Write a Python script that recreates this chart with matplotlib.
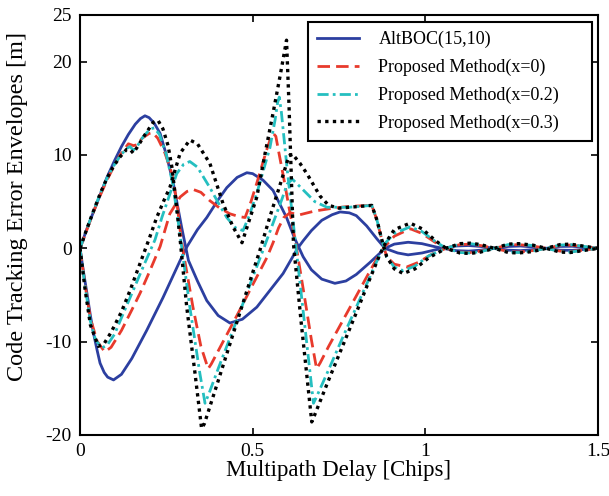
import matplotlib
matplotlib.use("Agg")
import matplotlib.pyplot as plt

plt.rcParams['font.family'] = ['Liberation Serif', 'DejaVu Serif']
plt.rcParams['axes.unicode_minus'] = False

# multipath delay [chips] and envelope values [m]
# AltBOC(15,10)
alt_a_x = [0, 0.02, 0.04, 0.06, 0.078, 0.10, 0.12, 0.14, 0.16, 0.175, 0.188, 0.20, 0.215, 0.232,
           0.25, 0.27, 0.294, 0.314, 0.34, 0.367, 0.40, 0.434, 0.47, 0.512, 0.55, 0.588, 0.63,
           0.646, 0.67, 0.70, 0.73, 0.753, 0.78, 0.80, 0.83, 0.86, 0.883, 0.92, 0.95, 0.99,
           1.03, 1.05, 1.09, 1.125, 1.16, 1.2, 1.24, 1.275, 1.31, 1.35, 1.39, 1.425, 1.46, 1.5]
alt_a_y = [0, 2.1, 4.0, 5.9, 7.6, 9.4, 10.9, 12.2, 13.3, 13.9, 14.2, 14.0, 13.4, 12.3,
           10.0, 7.0, 2.3, -1.3, -3.5, -5.6, -7.2, -8.0, -7.6, -6.3, -4.5, -2.7, 0.0,
           0.8, 1.9, 3.0, 3.6, 3.9, 3.8, 3.5, 2.4, 1.0, 0.0, -0.5, -0.7, -0.5,
           -0.15, 0, 0.25, 0.3, 0.2, 0, -0.2, -0.25, -0.15, 0, 0.2, 0.22, 0.12, 0]
alt_b_x = [0, 0.01, 0.02, 0.03, 0.039, 0.05, 0.058, 0.07, 0.08, 0.097, 0.12, 0.15, 0.193, 0.24,
           0.29, 0.31, 0.34, 0.367, 0.40, 0.425, 0.455, 0.483, 0.50, 0.53, 0.559, 0.598,
           0.62, 0.646, 0.67, 0.70, 0.738, 0.77, 0.80, 0.84, 0.869, 0.883, 0.91, 0.95, 0.99,
           1.03, 1.05, 1.09, 1.125, 1.16, 1.2, 1.24, 1.275, 1.31, 1.35, 1.39, 1.425, 1.46, 1.5]
alt_b_y = [0, -2.5, -4.8, -7.2, -9.1, -11.0, -12.3, -13.3, -13.8, -14.1, -13.5, -11.8, -8.8, -5.3,
           -1.3, 0.2, 2.0, 3.3, 5.2, 6.5, 7.6, 8.1, 8.0, 7.3, 6.2, 3.3,
           1.2, -0.9, -2.3, -3.3, -3.75, -3.5, -2.8, -1.5, -0.5, 0.0, 0.45, 0.65, 0.5,
           0.15, 0, -0.25, -0.3, -0.2, 0, 0.2, 0.25, 0.15, 0, -0.2, -0.22, -0.12, 0]

# Proposed Method (x=0)
p0_a_x = [0, 0.02, 0.04, 0.06, 0.078, 0.097, 0.116, 0.14, 0.155, 0.165, 0.18, 0.2, 0.21, 0.225,
          0.246, 0.266, 0.28, 0.29, 0.298, 0.327, 0.35, 0.371, 0.38, 0.42, 0.46, 0.50, 0.541,
          0.559, 0.575, 0.59, 0.608, 0.637, 0.68, 0.733, 0.78, 0.845, 0.86, 0.874, 0.888, 0.91,
          0.946, 0.98, 1.02, 1.06, 1.1, 1.13, 1.16, 1.2, 1.24, 1.27, 1.31, 1.35, 1.39, 1.42,
          1.46, 1.5]
p0_a_y = [0, 2.0, 4.0, 5.8, 7.3, 8.7, 10.0, 11.2, 11.0, 11.1, 11.8, 12.3, 12.4, 11.8,
          10.2, 8.0, 5.1, 1.9, -0.2, -6.3, -10.5, -12.9, -12.4, -9.6, -6.8, -3.9, -1.0,
          0.6, 2.2, 3.3, 3.8, 3.6, 4.0, 4.3, 4.5, 4.6, 3.0, 0.9, -0.9, -1.7,
          -2.0, -1.5, -0.6, 0, 0.4, 0.45, 0.3, 0, -0.35, -0.4, -0.25, 0, 0.3, 0.35,
          0.18, 0]
p0_b_x = [0, 0.015, 0.03, 0.05, 0.072, 0.09, 0.12, 0.15, 0.174, 0.2, 0.232, 0.26, 0.29, 0.31,
          0.328, 0.35, 0.376, 0.405, 0.434, 0.46, 0.478, 0.495, 0.512, 0.54, 0.553, 0.56,
          0.567, 0.575, 0.59, 0.605, 0.623, 0.65, 0.67, 0.685, 0.695, 0.72, 0.76, 0.80, 0.84,
          0.869, 0.883, 0.91, 0.956, 0.99, 1.03, 1.06, 1.1, 1.13, 1.16, 1.2, 1.24, 1.27, 1.31,
          1.35, 1.39, 1.42, 1.46, 1.5]
p0_b_y = [0, -4.0, -7.5, -10.0, -11.1, -10.6, -8.8, -6.6, -4.8, -2.6, 0.2, 3.7, 5.5, 6.1,
          6.3, 6.0, 5.1, 4.3, 3.7, 3.4, 3.3, 5.0, 7.0, 10.5, 11.9, 12.3,
          12.0, 10.4, 7.5, 4.4, 0.9, -5.2, -9.8, -12.9, -12.3, -10.5, -7.8, -5.1, -2.4,
          -0.5, 0.2, 1.3, 2.1, 1.6, 0.6, 0, -0.4, -0.45, -0.3, 0, 0.35, 0.4, 0.25,
          0, -0.3, -0.35, -0.18, 0]

# Proposed Method (x=0.2)
p2_a_x = [0, 0.02, 0.04, 0.06, 0.078, 0.097, 0.116, 0.135, 0.145, 0.154, 0.165, 0.18, 0.203,
          0.215, 0.23, 0.25, 0.268, 0.28, 0.295, 0.318, 0.347, 0.362, 0.375, 0.40, 0.455, 0.50,
          0.53, 0.56, 0.585, 0.60, 0.615, 0.637, 0.68, 0.715, 0.78, 0.845, 0.86, 0.874, 0.888,
          0.91, 0.936, 0.97, 1.01, 1.06, 1.1, 1.13, 1.16, 1.2, 1.24, 1.27, 1.31, 1.35, 1.39,
          1.42, 1.46, 1.5]
p2_a_y = [0, 2.1, 4.1, 6.0, 7.5, 8.8, 9.9, 10.7, 10.9, 10.5, 10.9, 11.8, 12.8,
          12.9, 12.2, 10.0, 7.0, 4.0, 0.0, -6.3, -13.4, -16.6, -15.4, -12.9, -7.6, -3.1,
          -0.2, 2.8, 5.3, 6.9, 7.4, 6.6, 5.0, 4.4, 4.4, 4.6, 3.0, 0.9, -0.9,
          -2.0, -2.4, -1.9, -0.8, 0, 0.45, 0.5, 0.35, 0, -0.4, -0.45, -0.3, 0, 0.35,
          0.4, 0.2, 0]
p2_b_x = [0, 0.015, 0.03, 0.045, 0.063, 0.08, 0.10, 0.125, 0.154, 0.185, 0.217, 0.237, 0.26,
          0.28, 0.30, 0.318, 0.34, 0.376, 0.40, 0.425, 0.45, 0.472, 0.49, 0.512, 0.55, 0.565,
          0.572, 0.577, 0.583, 0.60, 0.623, 0.65, 0.676, 0.685, 0.72, 0.76, 0.80, 0.84, 0.869,
          0.885, 0.91, 0.956, 0.99, 1.03, 1.06, 1.1, 1.13, 1.16, 1.2, 1.24, 1.27, 1.31, 1.35,
          1.39, 1.42, 1.46, 1.5]
p2_b_y = [0, -4.2, -7.8, -9.8, -10.7, -10.3, -9.2, -7.0, -4.5, -1.8, 0.9, 3.3, 5.8,
          8.0, 9.0, 9.3, 8.7, 6.5, 4.9, 3.3, 2.2, 1.9, 3.5, 5.9, 10.8, 13.8,
          15.6, 16.2, 14.6, 8.4, 0.9, -8.0, -16.6, -15.9, -13.0, -9.6, -6.3, -3.0, -0.6,
          0.6, 1.6, 2.3, 1.8, 0.7, 0, -0.45, -0.5, -0.35, 0, 0.4, 0.45, 0.3, 0,
          -0.35, -0.4, -0.2, 0]

# Proposed Method (x=0.3)
p3_a_x = [0, 0.02, 0.04, 0.06, 0.078, 0.097, 0.116, 0.135, 0.145, 0.154, 0.165, 0.185, 0.212,
          0.226, 0.24, 0.255, 0.266, 0.278, 0.29, 0.309, 0.333, 0.352, 0.36, 0.40, 0.45, 0.50,
          0.521, 0.55, 0.58, 0.605, 0.615, 0.637, 0.657, 0.695, 0.72, 0.75, 0.78, 0.845, 0.86,
          0.874, 0.888, 0.91, 0.936, 0.97, 1.01, 1.06, 1.1, 1.13, 1.16, 1.2, 1.24, 1.27, 1.31,
          1.35, 1.39, 1.42, 1.46, 1.5]
p3_a_y = [0, 2.1, 4.1, 6.0, 7.5, 8.8, 9.8, 10.6, 10.6, 10.2, 10.8, 12.0, 13.5,
          13.7, 12.8, 11.0, 8.7, 5.0, 0.9, -6.3, -13.4, -19.3, -18.8, -14.2, -8.4, -2.6,
          -0.2, 3.4, 6.9, 9.9, 10.1, 9.1, 8.0, 5.6, 4.6, 4.3, 4.4, 4.6, 3.0,
          0.9, -0.9, -2.2, -2.7, -2.2, -1.0, 0, 0.5, 0.55, 0.4, 0, -0.45, -0.5, -0.35,
          0, 0.4, 0.45, 0.22, 0]
p3_b_x = [0, 0.015, 0.03, 0.053, 0.07, 0.09, 0.12, 0.145, 0.175, 0.2, 0.222, 0.245, 0.26, 0.29,
          0.318, 0.34, 0.376, 0.414, 0.443, 0.469, 0.49, 0.512, 0.535, 0.559, 0.58, 0.598,
          0.605, 0.612, 0.618, 0.64, 0.655, 0.671, 0.68, 0.72, 0.76, 0.80, 0.84, 0.869, 0.885,
          0.91, 0.956, 0.99, 1.03, 1.06, 1.1, 1.13, 1.16, 1.2, 1.24, 1.27, 1.31, 1.35, 1.39,
          1.42, 1.46, 1.5]
p3_b_y = [0, -4.5, -8.2, -10.5, -10.2, -9.0, -6.8, -4.5, -1.5, 1.0, 3.3, 5.3, 6.5, 10.2,
          11.6, 11.2, 9.1, 4.8, 2.3, 0.6, 3.0, 5.5, 10.0, 14.5, 18.6, 22.3,
          15.5, 7.5, 0.5, -7.8, -13.0, -18.6, -17.8, -14.1, -10.5, -6.9, -3.2, -0.6, 0.6,
          2.0, 2.7, 2.1, 0.8, 0, -0.5, -0.55, -0.4, 0, 0.45, 0.5, 0.35, 0,
          -0.4, -0.45, -0.22, 0]

labels = ['AltBOC(15,10)', 'Proposed Method(x=0)', 'Proposed Method(x=0.2)', 'Proposed Method(x=0.3)']

fig = plt.figure(figsize=(6.09, 4.96), dpi=100)
ax = fig.add_axes([0.1314, 0.123, 0.8506, 0.8468])

blue = '#2c3fa0'
red = '#e83a2c'
cyan = '#25bfc0'
lw = 2.0

ax.plot(alt_a_x, alt_a_y, color=blue, lw=lw, label=labels[0])
ax.plot(alt_b_x, alt_b_y, color=blue, lw=lw)
ax.plot(p0_a_x, p0_a_y, color=red, lw=lw, ls=(0, (4.5, 2.2)), label=labels[1])
ax.plot(p0_b_x, p0_b_y, color=red, lw=lw, ls=(0, (4.5, 2.2)))
ax.plot(p2_a_x, p2_a_y, color=cyan, lw=lw, ls=(0, (4, 1.5, 1, 1.5)), label=labels[2])
ax.plot(p2_b_x, p2_b_y, color=cyan, lw=lw, ls=(0, (4, 1.5, 1, 1.5)))
ax.plot(p3_a_x, p3_a_y, color='black', lw=2.4, ls=(0, (1, 1.3)), label=labels[3])
ax.plot(p3_b_x, p3_b_y, color='black', lw=2.4, ls=(0, (1, 1.3)))

ax.set_xlim(0, 1.5)
ax.set_ylim(-20, 25)
ax.set_xticks([0, 0.5, 1, 1.5])
ax.set_xticklabels(['0', '0.5', '1', '1.5'])
ax.set_yticks([-20, -10, 0, 10, 20, 25])
ax.tick_params(direction='in', top=True, right=True, length=5, width=1.2, labelsize=14, pad=6)
for s in ax.spines.values():
    s.set_linewidth(1.5)

ax.set_xlabel('Multipath Delay [Chips]', fontsize=16.5, labelpad=0)
ax.set_ylabel('Code Tracking Error Envelopes [m]', fontsize=17.5)
ax.yaxis.set_label_coords(-0.100, 0.543)

leg = ax.legend(loc='upper left', bbox_to_anchor=(0.44, 0.705, 0.548, 0.278), mode='expand',
                borderaxespad=0, borderpad=0.5, fontsize=13, fancybox=False, framealpha=1,
                edgecolor='black', handlelength=2.3, handletextpad=1.1, labelspacing=0.58)
leg.get_frame().set_linewidth(1.5)

fig.savefig('out.png', dpi=100)
